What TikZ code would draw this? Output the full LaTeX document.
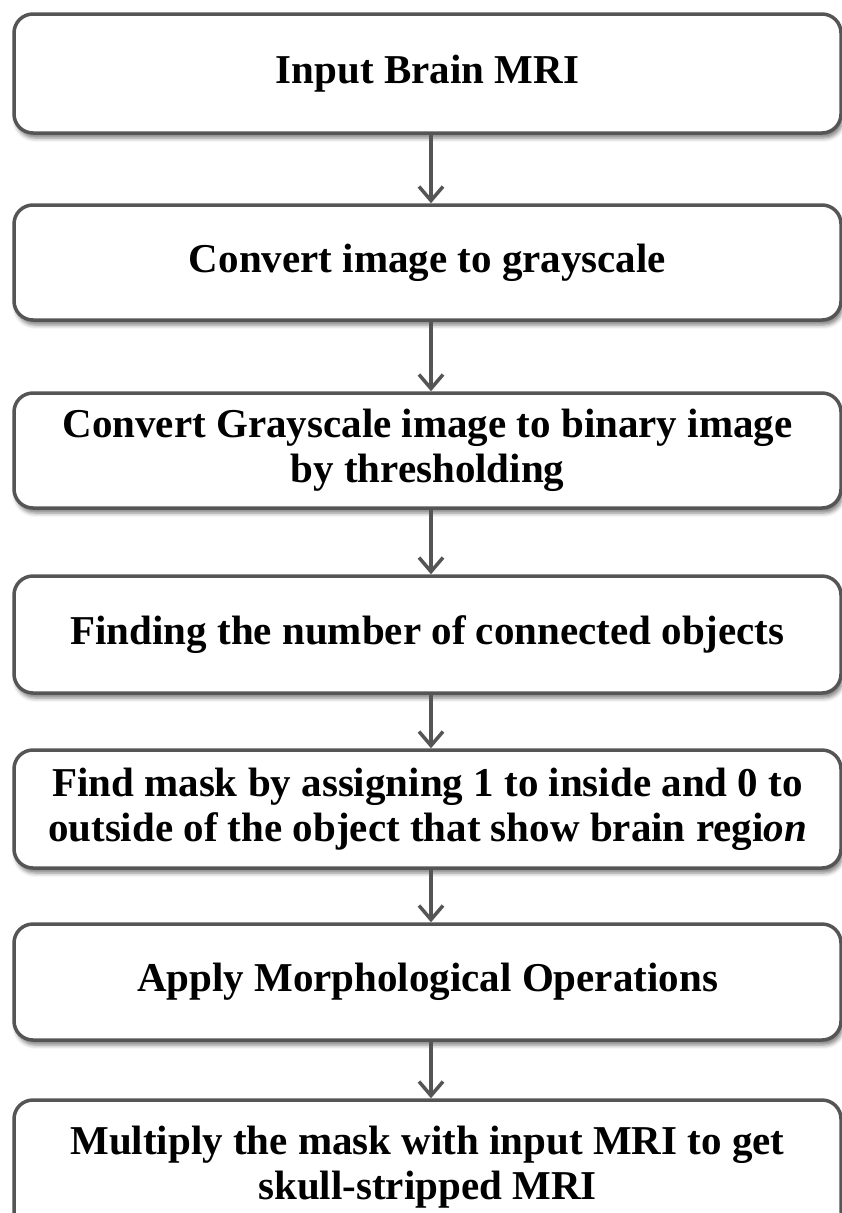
\documentclass[tikz,border=0pt]{standalone}
\usepackage{fontspec}
\setmainfont{Liberation Serif}
\usetikzlibrary{arrows.meta,shadows.blur}
\definecolor{edge}{HTML}{555555}
\tikzset{
  stepbox/.style={draw=edge, line width=3.5pt, rounded corners=19pt, fill=white,
    minimum width=827pt, align=center, inner sep=0pt,
    font=\bfseries\fontsize{41}{45}\selectfont,
    blur shadow={shadow xshift=2pt, shadow yshift=-5pt, shadow blur radius=4pt, shadow opacity=50}},
  flow/.style={draw=edge, line width=3.5pt, -{Straight Barb[length=14pt,width=24pt]}}
}
\begin{document}
\begin{tikzpicture}[x=1pt,y=1pt]
\useasboundingbox (0,0) rectangle (842,-1213);
% processing steps, top to bottom
\node[stepbox, minimum height=119pt] (b1) at (427.5,-73.5) {Input Brain MRI};
\node[stepbox, minimum height=115pt] (b2) at (427.5,-262.5) {Convert image to grayscale};
\node[stepbox, minimum height=115pt] (b3) at (427.5,-450.5) {Convert Grayscale image to binary image\\by thresholding};
\node[stepbox, minimum height=117pt] (b4) at (427.5,-634.5) {Finding the number of connected objects};
\node[stepbox, minimum height=118pt] (b5) at (427.5,-809) {Find mask by assigning 1 to inside and 0 to\\outside of the object that show brain regi\textit{on}};
\node[stepbox, minimum height=116pt] (b6) at (427.5,-982) {Apply Morphological Operations};
\node[stepbox, minimum height=135pt] (b7) at (427.5,-1167.5) {Multiply the mask with input MRI to get\\skull-stripped MRI};
% arrows between consecutive steps
\coordinate (ax) at (431,0);
\draw[flow] (b1.south -| ax) -- (b2.north -| ax);
\draw[flow] (b2.south -| ax) -- (b3.north -| ax);
\draw[flow] (b3.south -| ax) -- (b4.north -| ax);
\draw[flow] (b4.south -| ax) -- (b5.north -| ax);
\draw[flow] (b5.south -| ax) -- (b6.north -| ax);
\draw[flow] (b6.south -| ax) -- (b7.north -| ax);
\end{tikzpicture}
\end{document}
